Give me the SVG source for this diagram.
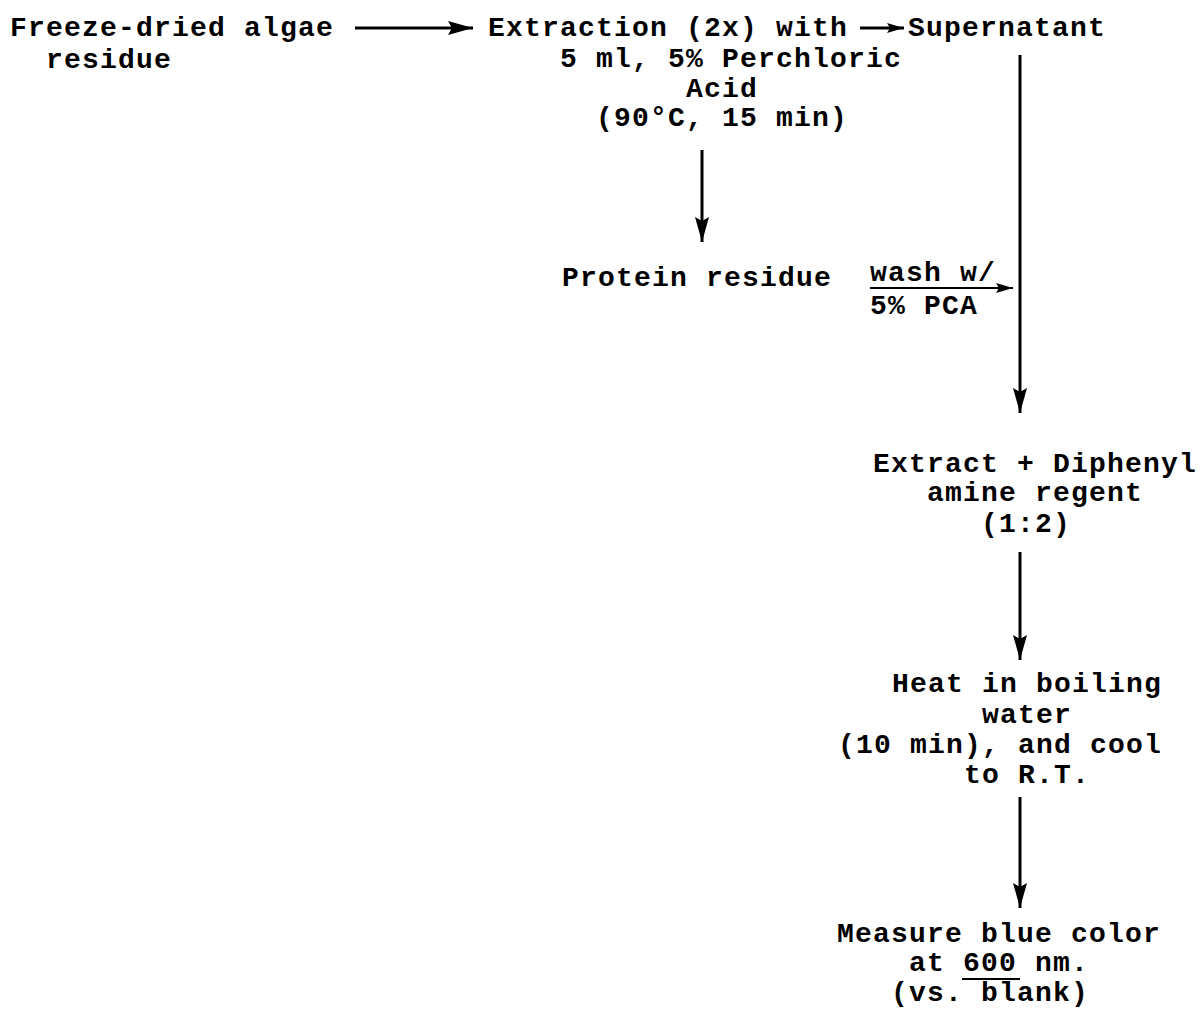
<svg xmlns="http://www.w3.org/2000/svg" width="1204" height="1009" viewBox="0 0 1204 1009">
<style>
text{font-family:"Liberation Mono","Courier New",monospace;font-weight:bold;font-size:28px;letter-spacing:1.2px;fill:#000}
.ln{stroke:#000;stroke-width:3;fill:none}
.thin{stroke:#000;stroke-width:2;fill:none}
</style>
<defs>
<marker id="ah" markerUnits="userSpaceOnUse" markerWidth="26" markerHeight="16" refX="25" refY="8" orient="auto">
<path d="M0,1 L25,8 L0,15 L4,8 Z" fill="#000"/>
</marker>
<marker id="ahs" markerUnits="userSpaceOnUse" markerWidth="18" markerHeight="12" refX="17" refY="6" orient="auto">
<path d="M0,1 L17,6 L0,11 L3,6 Z" fill="#000"/>
</marker>
</defs>
<rect width="1204" height="1009" fill="#fff"/>
<g id="connectors">
<line class="ln" x1="355" y1="28" x2="473" y2="28" marker-end="url(#ah)"/>
<line class="ln" x1="860" y1="28" x2="904" y2="28" marker-end="url(#ahs)"/>
<line class="ln" x1="1020" y1="55" x2="1020" y2="413" marker-end="url(#ah)"/>
<line class="ln" x1="702" y1="150" x2="702" y2="242" marker-end="url(#ah)"/>
<line class="thin" x1="870" y1="288" x2="1013" y2="288" marker-end="url(#ahs)"/>
<line class="ln" x1="1020" y1="552" x2="1020" y2="660" marker-end="url(#ah)"/>
<line class="ln" x1="1020" y1="797" x2="1020" y2="908" marker-end="url(#ah)"/>
</g>
<g id="freeze">
<text x="10" y="36">Freeze-dried algae</text>
<text x="46" y="68">residue</text>
</g>
<g id="extraction">
<text x="488" y="36">Extraction (2x) with</text>
<text x="560" y="67">5 ml, 5% Perchloric</text>
<text x="686" y="97">Acid</text>
<text x="596" y="126">(90°C, 15 min)</text>
</g>
<g id="supernatant">
<text x="908" y="36">Supernatant</text>
</g>
<g id="protein">
<text x="562" y="286">Protein residue</text>
</g>
<g id="wash">
<text x="870" y="281">wash w/</text>
<text x="870" y="314">5% PCA</text>
</g>
<g id="extract">
<text x="873" y="472">Extract + Diphenyl</text>
<text x="927" y="501">amine regent</text>
<text x="981" y="532">(1:2)</text>
</g>
<g id="heat">
<text x="892" y="692">Heat in boiling</text>
<text x="982" y="723">water</text>
<text x="838" y="753">(10 min), and cool</text>
<text x="964" y="783">to R.T.</text>
</g>
<g id="measure">
<text x="837" y="942">Measure blue color</text>
<text x="909" y="971">at 600 nm.</text>
<line class="thin" x1="962" y1="979" x2="1020" y2="979"/>
<text x="891" y="1001">(vs. blank)</text>
</g>
</svg>
